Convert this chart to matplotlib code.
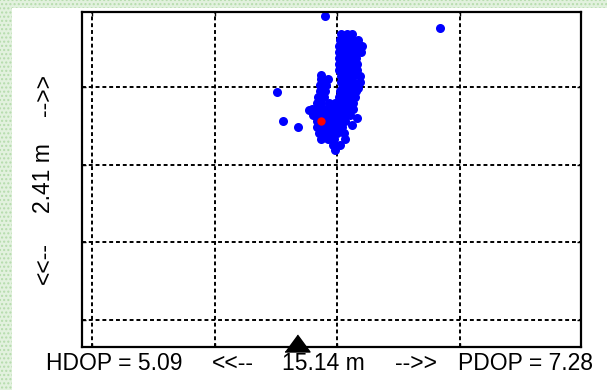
import matplotlib
matplotlib.use('Agg')
from matplotlib import pyplot as plt
from matplotlib.patches import Rectangle

# Position scatter (grid units), rows of the cluster from top to bottom
east = [2.03, 2.08, 2.12,
        2.02, 2.07, 2.12, 2.17,
        2.01, 2.06, 2.11, 2.16, 2.20,
        2.01, 2.05, 2.10, 2.15, 2.19,
        2.01, 2.05, 2.10, 2.15,
        2.01, 2.06, 2.11, 2.16,
        2.01, 2.06, 2.11, 2.16,
        2.03, 2.08, 2.13, 2.18,
        2.03, 2.08, 2.13, 2.18,
        2.04, 2.09, 2.14, 2.17,
        1.87, 1.92,
        1.86, 1.91,
        1.86, 1.90, 2.02, 2.07, 2.12, 2.15,
        1.84, 1.89, 2.01, 2.05, 2.10, 2.14,
        1.83, 1.87, 1.93, 1.98, 2.03, 2.08, 2.13,
        1.79, 1.84, 1.89, 1.94, 1.99, 2.04, 2.09, 2.13,
        1.80, 1.85, 1.90, 1.95, 2.00, 2.05, 2.10,
        1.83, 1.92, 1.96, 2.01, 2.06,
        1.83, 1.88, 1.93, 1.99, 2.04,
        1.85, 1.90, 1.95, 2.00, 2.05,
        1.87, 1.92, 1.97, 2.06,
        1.96,
        1.98,
        2.16, 2.12, 2.02, 1.87, 1.77,
        1.90, 2.84, 1.51, 1.56, 1.68]
north = [3.68, 3.68, 3.68,
         3.60, 3.60, 3.60, 3.60,
         3.53, 3.53, 3.53, 3.53, 3.53,
         3.45, 3.45, 3.45, 3.45, 3.45,
         3.37, 3.37, 3.37, 3.37,
         3.30, 3.30, 3.30, 3.30,
         3.22, 3.22, 3.22, 3.22,
         3.14, 3.14, 3.14, 3.14,
         3.06, 3.06, 3.06, 3.06,
         2.99, 2.99, 2.99, 2.99,
         3.10, 3.10,
         3.02, 3.02,
         2.95, 2.95, 2.95, 2.95, 2.95, 2.95,
         2.87, 2.87, 2.87, 2.87, 2.87, 2.87,
         2.79, 2.79, 2.79, 2.79, 2.79, 2.79, 2.79,
         2.72, 2.72, 2.72, 2.72, 2.72, 2.72, 2.72, 2.72,
         2.64, 2.64, 2.64, 2.64, 2.64, 2.64, 2.64,
         2.56, 2.56, 2.56, 2.56, 2.56,
         2.48, 2.48, 2.48, 2.48, 2.48,
         2.41, 2.41, 2.41, 2.41, 2.41,
         2.33, 2.33, 2.33, 2.33,
         2.25,
         2.19,
         2.60, 2.51, 2.25, 3.15, 2.70,
         3.91, 3.76, 2.93, 2.56, 2.48]

mean_pos = (1.87, 2.56)
station_x = 1.67

grid_ticks = [0, 1, 2, 3]
hdop = 5.09
pdop = 7.28
width_m = 15.14
height_m = 2.41

fig = plt.figure(figsize=(6.07, 3.90), dpi=100)
fig.patch.set_facecolor('white')

# green dithered frame on the left and top edges
for r in [Rectangle((0, 0), 12 / 607, 1), Rectangle((0, 1 - 8 / 390), 1, 8 / 390)]:
    r.set_transform(fig.transFigure)
    r.set_facecolor('#e2f1de')
    r.set_edgecolor('#b5dcac')
    r.set_hatch('....')
    r.set_linewidth(0)
    fig.add_artist(r)

ax = fig.add_axes([82 / 607, 43 / 390, 499 / 607, 335 / 390])
ax.plot(east, north, 'o', color='#0000ff', markersize=6.5, markeredgewidth=0)
ax.plot(mean_pos[0], mean_pos[1], 'o', color='#ff0000', markersize=6, markeredgewidth=0)

tri = [(-12.5, -8.5), (12.5, -8.5), (0, 8.5)]
ax.plot(station_x, -0.30, marker=tri, color='black', markersize=18, clip_on=False, zorder=5)

ax.set_xlim(-0.0815, 3.985)
ax.set_ylim(-0.347, 3.964)
ax.set_xticks(grid_ticks)
ax.set_yticks(grid_ticks)
ax.set_xticklabels([])
ax.set_yticklabels([])
ax.tick_params(direction='in', length=3, width=1, top=True, right=True)
ax.grid(True, color='black', linewidth=1.4, linestyle=(0, (2, 1.5)))
for s in ax.spines.values():
    s.set_linewidth(1.6)

font = dict(family='Liberation Sans', fontsize=16.5)
bottom = [(45.7, f'HDOP = {hdop:.2f}'), (212, '<<--'), (282, f'{width_m:.2f} m'),
          (395, '-->>'), (458, f'PDOP = {pdop:.2f}')]
for px, s in bottom:
    fig.text(px / 607, 20 / 390, s, ha='left', va='baseline', **font)

left = [(263.5, '<<--'), (178.5, f'{height_m:.2f} m'), (94.5, '-->>')]
for py, s in left:
    fig.text(44 / 607, (390 - py) / 390, s, rotation=90, ha='center', va='center', **font)

fig.savefig('out.png', dpi=100)
